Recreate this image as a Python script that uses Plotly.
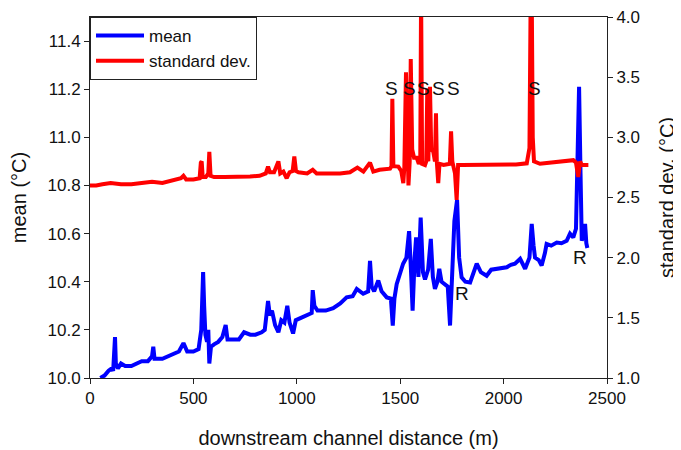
import plotly.graph_objects as go

# ---- data ----
mean_dist = [50, 70, 90, 105, 112, 118, 121, 125, 135, 150, 170, 200, 230, 250, 280, 300, 306, 312,
             350, 380, 400, 430, 452, 470, 500, 525, 538, 542, 547, 552, 558, 566, 572, 577, 585,
             600, 620, 640, 656, 665, 690, 720, 745, 775, 800, 830, 845, 852, 861, 870, 880, 895,
             911, 925, 940, 954, 965, 982, 995, 1020, 1050, 1072, 1077, 1085, 1100, 1140, 1176,
             1210, 1241, 1270, 1290, 1321, 1345, 1354, 1362, 1374, 1394, 1410, 1435, 1455, 1464,
             1472, 1483, 1499, 1514, 1530, 1543, 1552, 1560, 1570, 1577, 1588, 1599, 1610, 1620,
             1635, 1648, 1658, 1668, 1680, 1689, 1700, 1717, 1730, 1741, 1750, 1762, 1775, 1785,
             1797, 1815, 1838, 1855, 1870, 1890, 1918, 1940, 1967, 1990, 2015, 2035, 2055, 2080,
             2104, 2125, 2136, 2145, 2152, 2170, 2184, 2200, 2208, 2230, 2257, 2280, 2305, 2321,
             2337, 2350, 2358, 2365, 2372, 2378, 2386, 2394, 2400, 2405]
mean_vals = [10.00, 10.01, 10.03, 10.04, 10.03, 10.10, 10.17, 10.06, 10.04, 10.06, 10.05, 10.05,
             10.06, 10.07, 10.07, 10.09, 10.13, 10.08, 10.08, 10.09, 10.10, 10.11, 10.145, 10.11,
             10.11, 10.12, 10.20, 10.37, 10.44, 10.30, 10.18, 10.15, 10.20, 10.06, 10.13, 10.14,
             10.15, 10.17, 10.22, 10.16, 10.16, 10.16, 10.19, 10.18, 10.18, 10.19, 10.20, 10.25,
             10.32, 10.26, 10.28, 10.22, 10.19, 10.24, 10.23, 10.30, 10.23, 10.185, 10.24, 10.25,
             10.26, 10.27, 10.365, 10.30, 10.28, 10.28, 10.29, 10.31, 10.335, 10.34, 10.37, 10.35,
             10.36, 10.487, 10.38, 10.36, 10.405, 10.36, 10.335, 10.33, 10.218, 10.33, 10.39, 10.43,
             10.475, 10.50, 10.61, 10.45, 10.28, 10.50, 10.584, 10.42, 10.667, 10.44, 10.41, 10.45,
             10.578, 10.42, 10.37, 10.40, 10.454, 10.40, 10.39, 10.38, 10.218, 10.38, 10.653, 10.74,
             10.50, 10.418, 10.40, 10.397, 10.44, 10.475, 10.44, 10.425, 10.45, 10.454, 10.46,
             10.46, 10.47, 10.475, 10.495, 10.454, 10.50, 10.64, 10.55, 10.50, 10.49, 10.467, 10.52,
             10.557, 10.55, 10.563, 10.56, 10.57, 10.60, 10.584, 10.62, 10.90, 11.21, 10.85, 10.57,
             10.60, 10.64, 10.56, 10.54]

sd_dist = [0, 30, 60, 100, 150, 200, 250, 300, 350, 400, 440, 452, 465, 500, 530, 536, 540, 545,
           560, 572, 577, 583, 600, 650, 700, 774, 820, 850, 861, 870, 890, 911, 920, 935, 951,
           965, 980, 988, 996, 1008, 1050, 1077, 1096, 1150, 1209, 1257, 1293, 1322, 1354, 1370,
           1400, 1451, 1458, 1462, 1467, 1491, 1505, 1515, 1520, 1528, 1535, 1540, 1546, 1551,
           1558, 1567, 1580, 1590, 1597, 1601, 1606, 1620, 1626, 1631, 1636, 1644, 1650, 1660,
           1668, 1673, 1677, 1684, 1690, 1710, 1740, 1746, 1752, 1757, 1765, 1773, 1780, 1800,
           1854, 1900, 1950, 2015, 2060, 2112, 2125, 2131, 2136, 2141, 2147, 2176, 2250, 2321,
           2337, 2350, 2361, 2370, 2378, 2410]
sd_vals = [2.60, 2.60, 2.61, 2.62, 2.61, 2.61, 2.62, 2.63, 2.62, 2.64, 2.66, 2.68, 2.65, 2.65,
           2.66, 2.79, 2.80, 2.67, 2.67, 2.70, 2.88, 2.68, 2.67, 2.67, 2.67, 2.674, 2.68, 2.70,
           2.757, 2.71, 2.71, 2.80, 2.70, 2.715, 2.66, 2.71, 2.72, 2.84, 2.72, 2.71, 2.70, 2.73,
           2.70, 2.70, 2.70, 2.71, 2.748, 2.715, 2.79, 2.715, 2.73, 2.74, 2.76, 3.32, 2.76, 2.757,
           2.72, 2.62, 2.75, 3.54, 2.70, 2.60, 2.80, 3.65, 2.90, 2.83, 2.83, 2.78, 2.80, 4.2, 2.78,
           2.77, 2.80, 3.405, 2.80, 3.42, 2.90, 2.88, 2.80, 3.20, 2.80, 2.62, 2.78, 2.77, 2.78,
           3.05, 2.80, 2.77, 2.70, 2.48, 2.77, 2.77, 2.77, 2.775, 2.77, 2.77, 2.775, 2.784, 2.91,
           4.2, 4.2, 3.0, 2.80, 2.78, 2.79, 2.80, 2.81, 2.79, 2.67, 2.80, 2.77, 2.77]

s_label_dist = [1459, 1543, 1612, 1684, 1757, 2149]
s_label_sd = [3.41, 3.41, 3.41, 3.41, 3.41, 3.41]
r_label_dist = [1797, 2370]
r_label_mean = [10.352, 10.50]

x_ticks = [0, 500, 1000, 1500, 2000, 2500]
mean_ticks = [10.0, 10.2, 10.4, 10.6, 10.8, 11.0, 11.2, 11.4]
sd_ticks = [1.0, 1.5, 2.0, 2.5, 3.0, 3.5, 4.0]

FONT = "Liberation Sans, Arial, sans-serif"

fig = go.Figure()
fig.add_trace(go.Scatter(x=mean_dist, y=mean_vals, mode="lines", name="mean",
                         line=dict(color="#0000ff", width=4), yaxis="y"))
fig.add_trace(go.Scatter(x=sd_dist, y=sd_vals, mode="lines", name="standard dev.",
                         line=dict(color="#ff0000", width=4), yaxis="y2"))

for xv, yv in zip(s_label_dist, s_label_sd):
    fig.add_annotation(x=xv, y=yv, xref="x", yref="y2", text="S", showarrow=False,
                       font=dict(size=19, color="#111111", family=FONT))
for xv, yv in zip(r_label_dist, r_label_mean):
    fig.add_annotation(x=xv, y=yv, xref="x", yref="y", text="R", showarrow=False,
                       font=dict(size=19, color="#111111", family=FONT))

axis_common = dict(showline=True, linecolor="#222222", linewidth=1, ticks="outside",
                   ticklen=5, tickcolor="#222222", showgrid=False, zeroline=False,
                   automargin=False, ticklabeloverflow="allow",
                   tickfont=dict(size=17, color="#111111", family=FONT))

# the page body adds an 8 px offset, so the figure is 8 px smaller and margins shifted
fig.update_layout(
    width=673, height=442,
    margin=dict(l=82, r=74, t=9, b=72, autoexpand=False),
    paper_bgcolor="white", plot_bgcolor="white",
    font=dict(family=FONT, color="#111111"),
    showlegend=True,
    legend=dict(x=0, y=1, xanchor="left", yanchor="top", bgcolor="white",
                bordercolor="#222222", borderwidth=1, font=dict(size=17, family=FONT),
                itemwidth=48, tracegroupgap=0),
    xaxis=dict(range=[0, 2500], tickvals=x_ticks, mirror=True,
               title=dict(text="downstream channel distance (m)", font=dict(size=20), standoff=23),
               **axis_common),
    yaxis=dict(range=[10.0, 11.5], tickvals=mean_ticks, tickformat=".1f",
               title=dict(text="mean (°C)", font=dict(size=20), standoff=16),
               **axis_common),
    yaxis2=dict(range=[1.0, 4.0], tickvals=sd_ticks, tickformat=".1f", overlaying="y",
                side="right",
                title=dict(text="standard dev. (°C)", font=dict(size=20), standoff=20),
                **axis_common),
)

fig.write_html("out.html")
